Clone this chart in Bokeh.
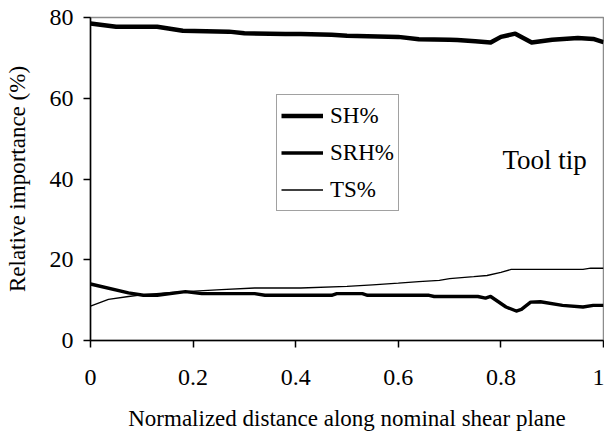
from bokeh.plotting import figure
from bokeh.models import Range1d, FixedTicker, Legend, LegendItem, Label
from bokeh.embed import file_html
from bokeh.resources import INLINE

# ---- data ----
x_sh = [0.00, 0.05, 0.13, 0.18, 0.27, 0.30, 0.38, 0.41, 0.47, 0.50, 0.60, 0.64,
        0.70, 0.715, 0.75, 0.78, 0.80, 0.828, 0.86, 0.90, 0.95, 0.98, 1.00]
sh = [78.5, 77.7, 77.7, 76.7, 76.5, 76.1, 75.9, 75.9, 75.7, 75.5, 75.2, 74.6,
      74.5, 74.4, 74.1, 73.8, 75.2, 76.0, 73.8, 74.5, 74.9, 74.7, 73.9]

x_srh = [0.00, 0.074, 0.103, 0.13, 0.185, 0.217, 0.32, 0.34, 0.47, 0.48, 0.53,
         0.54, 0.66, 0.67, 0.755, 0.77, 0.78, 0.81, 0.83, 0.84, 0.858, 0.877,
         0.92, 0.96, 0.98, 1.00]
srh = [14.0, 11.8, 11.2, 11.2, 12.1, 11.6, 11.6, 11.2, 11.2, 11.6, 11.6,
       11.2, 11.2, 10.9, 10.9, 10.5, 10.9, 8.3, 7.3, 7.7, 9.5, 9.6,
       8.7, 8.3, 8.7, 8.7]

x_ts = [0.00, 0.035, 0.074, 0.10, 0.146, 0.185, 0.255, 0.32, 0.41, 0.50, 0.55,
        0.60, 0.64, 0.68, 0.70, 0.747, 0.773, 0.80, 0.82, 0.96, 0.975, 1.00]
ts = [8.5, 10.2, 10.9, 11.3, 11.8, 12.1, 12.6, 13.0, 13.0, 13.4, 13.8,
      14.2, 14.6, 14.9, 15.3, 15.8, 16.1, 16.9, 17.6, 17.6, 17.9, 17.9]

x_ticks = [0, 0.2, 0.4, 0.6, 0.8, 1]
x_tick_labels = ["0", "0.2", "0.4", "0.6", "0.8", "1"]
y_ticks = [0, 20, 40, 60, 80]

series_names = ["SH%", "SRH%", "TS%"]
annotation_text = "Tool tip"
x_title = "Normalized distance along nominal shear plane"
y_title = "Relative importance (%)"

FONT = "Liberation Serif"

p = figure(width=604, height=433, output_backend="svg", toolbar_location=None,
           x_range=Range1d(0, 1), y_range=Range1d(0, 80),
           min_border_left=90, min_border_right=1, min_border_top=17,
           min_border_bottom=91, background_fill_color="white",
           border_fill_color="white")

p.outline_line_color = "#8c8c8c"
p.outline_line_width = 1.5
p.xgrid.visible = False
p.ygrid.visible = False

for ax in (p.xaxis[0], p.yaxis[0]):
    ax.axis_line_color = "black"
    ax.axis_line_width = 1.5
    ax.major_tick_line_color = "black"
    ax.major_tick_line_width = 1.5
    ax.major_tick_in = 0
    ax.major_tick_out = 7
    ax.minor_tick_line_color = None
    ax.major_label_text_font = FONT
    ax.major_label_text_font_size = "24px"
    ax.major_label_text_color = "black"
    ax.axis_label_text_font = FONT
    ax.axis_label_text_font_size = "23px"
    ax.axis_label_text_font_style = "normal"
    ax.axis_label_text_color = "black"

p.xaxis.ticker = FixedTicker(ticks=x_ticks)
p.xaxis.major_label_overrides = {t: l for t, l in zip(x_ticks, x_tick_labels)}
p.yaxis.ticker = FixedTicker(ticks=y_ticks)
p.xaxis.major_label_standoff = 22
p.yaxis.major_label_standoff = 10
p.xaxis.axis_label = x_title
p.yaxis.axis_label = y_title
p.xaxis.axis_label_standoff = 18
p.yaxis.axis_label_standoff = 17

r_sh = p.line(x_sh, sh, line_color="black", line_width=4.5, line_join="round")
r_srh = p.line(x_srh, srh, line_color="black", line_width=3.4, line_join="round")
r_ts = p.line(x_ts, ts, line_color="black", line_width=1.3)

legend = Legend(items=[LegendItem(label=series_names[0], renderers=[r_sh]),
                       LegendItem(label=series_names[1], renderers=[r_srh]),
                       LegendItem(label=series_names[2], renderers=[r_ts])],
                location=(186, 129))
legend.label_text_font = FONT
legend.label_text_font_size = "23px"
legend.label_text_color = "black"
legend.border_line_color = "#444444"
legend.border_line_width = 1
legend.background_fill_color = "white"
legend.background_fill_alpha = 1
legend.padding = 4
legend.margin = 0
legend.spacing = 4
legend.glyph_width = 42
legend.glyph_height = 33
legend.label_height = 33
legend.label_standoff = 7
p.add_layout(legend, "center")

p.add_layout(Label(x=0.803, y=44.8, text=annotation_text, text_font=FONT,
                   text_font_size="27px", text_color="black",
                   text_baseline="alphabetic"))

open("out.html", "w").write(file_html(p, INLINE))
